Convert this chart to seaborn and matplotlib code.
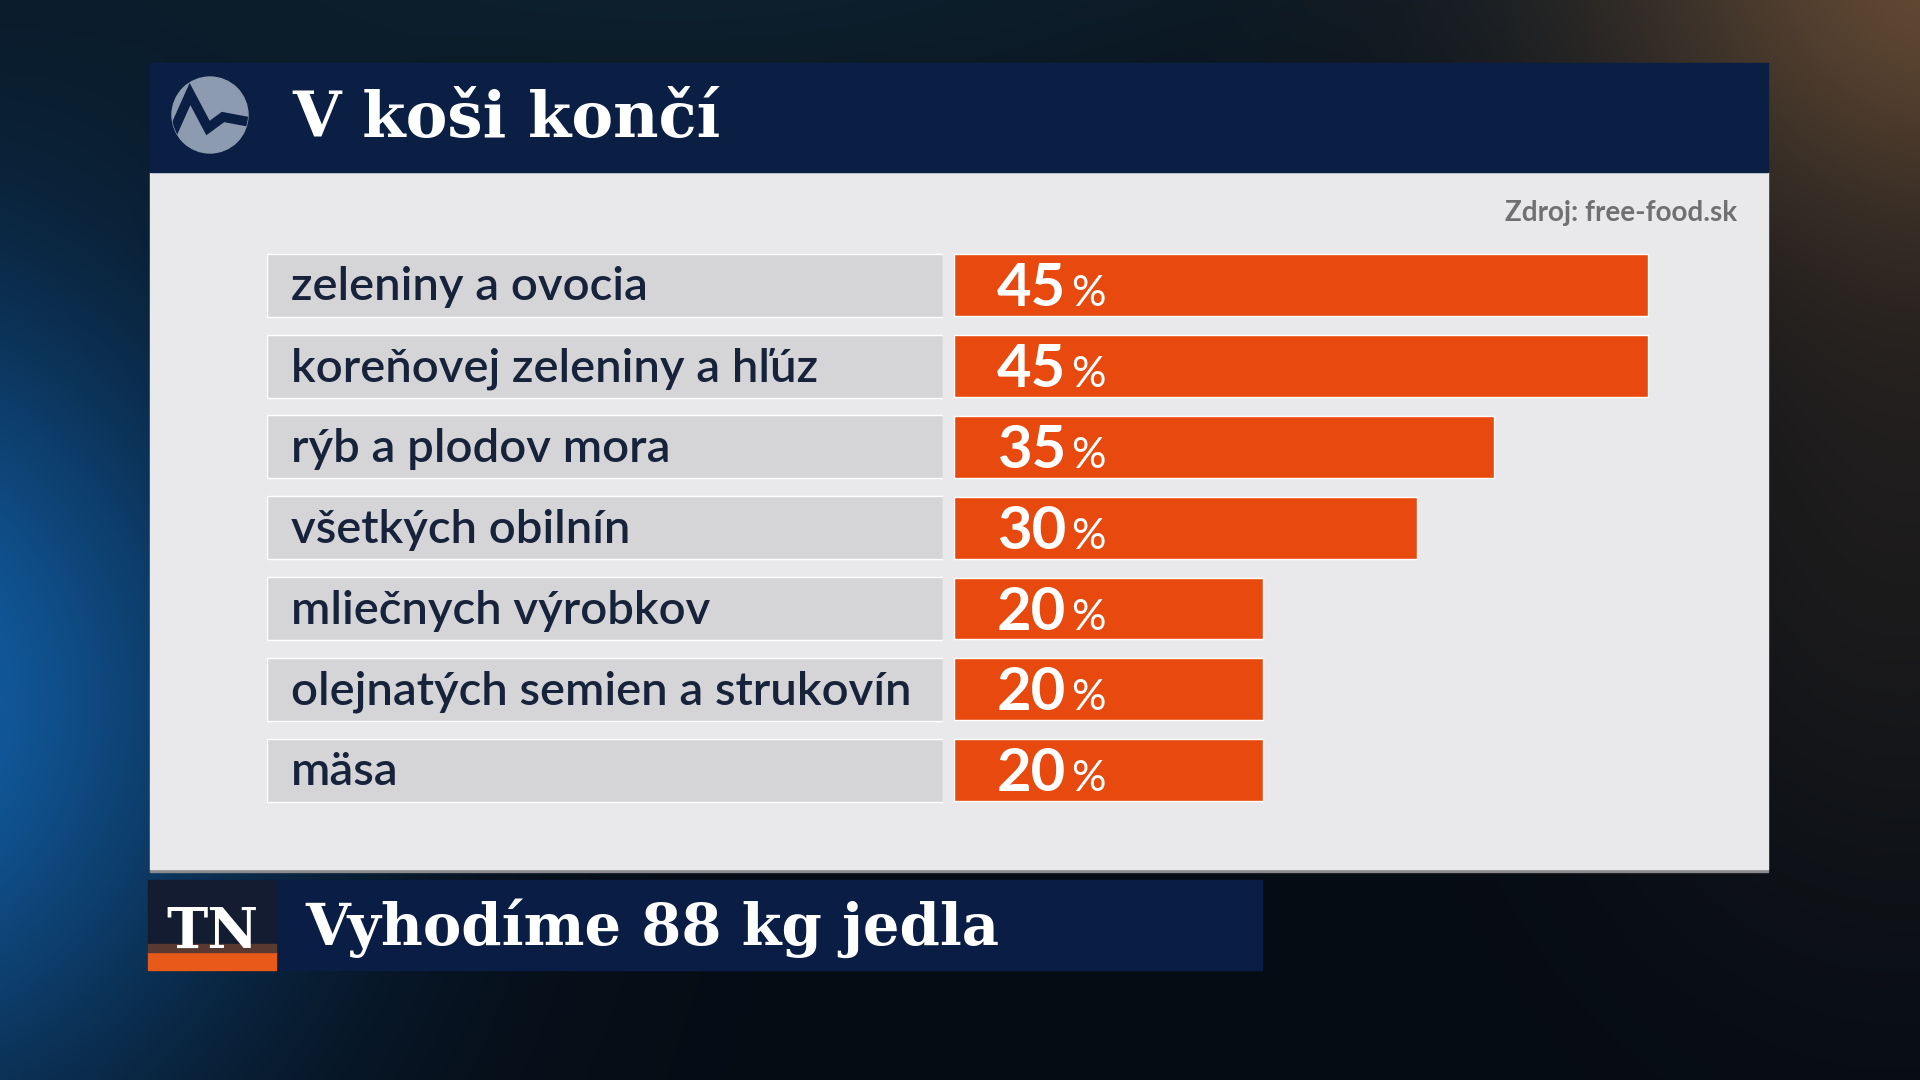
import numpy as np
import pandas as pd
import matplotlib
matplotlib.use("Agg")
import matplotlib.pyplot as plt
import seaborn as sns
from matplotlib.patches import Rectangle, Circle

# ---- data ----
categories = ["zeleniny a ovocia", "koreňovej zeleniny a hľúz", "rýb a plodov mora",
              "všetkých obilnín", "mliečnych výrobkov", "olejnatých semien a strukovín", "mäsa"]
values = [45, 45, 35, 30, 20, 20, 20]
title = "V koši končí"
source = "Zdroj: free-food.sk"
headline = "Vyhodíme 88 kg jedla"
logo_text = "TN"

W, H = 1920, 1080
sns.set_theme(style="white")
plt.rcParams['font.family'] = ['Lato', 'DejaVu Sans']

fig = plt.figure(figsize=(19.2, 10.8), dpi=100)
bg = fig.add_axes([0, 0, 1, 1])
bg.axis('off')

# ---- background gradient ----
yy, xx = np.mgrid[0:H:4, 0:W:4].astype(float)
def blob(cx, cy, sx, sy):
    return np.exp(-(((xx - cx) / sx) ** 2 + ((yy - cy) / sy) ** 2))
img = np.zeros(xx.shape + (3,))
img[:] = np.array([6, 12, 20]) / 255
img += blob(-150, 700, 420, 450)[..., None] * np.array([12, 85, 150]) / 255
img += blob(1980, -60, 400, 300)[..., None] * np.array([90, 58, 28]) / 255
img += blob(700, -100, 800, 300)[..., None] * np.array([8, 22, 28]) / 255
img += blob(1900, 500, 300, 400)[..., None] * np.array([22, 15, 8]) / 255
img = np.clip(img, 0, 1)
bg.imshow(img, extent=(0, W, H, 0), zorder=0, interpolation='bilinear', aspect='auto')
bg.set_xlim(0, W)
bg.set_ylim(H, 0)

# ---- panel ----
bg.add_patch(Rectangle((150, 869), 1618, 3, color='#8a8a8e', zorder=1))
bg.add_patch(Rectangle((150, 172), 1618, 697, color='#e9e9eb', zorder=1))
bg.add_patch(Rectangle((150, 63), 1618, 109, color='#0b1f45', zorder=2))

# logo
circ = Circle((210, 115), 38, color='#8d9bb0', zorder=3)
bg.add_patch(circ)
zz, = bg.plot([165, 190, 208, 223, 255], [150, 94, 128, 117, 123], color='#0b1f45',
              lw=7, zorder=4, solid_joinstyle='miter', solid_capstyle='butt')
zz.set_clip_path(circ)

bg.text(292, 137, title, color='white', fontsize=45, fontweight='bold',
        family=['DejaVu Serif'], va='baseline', ha='left', zorder=5)
bg.text(1737, 221, source, color='#707072', fontsize=20, fontweight='bold',
        va='baseline', ha='right', zorder=5)

# ---- bars ----
n = len(categories)
row0, step = 285.3, 80.8
top_px = row0 - step / 2
bot_px = row0 + step * (n - 1) + step / 2
ax_h = (bot_px - top_px) / H
ax_b = 1 - bot_px / H
x0_px, px_per_pct = 954, 15.43

ax = fig.add_axes([x0_px / W, ax_b, (1768 - x0_px) / W, ax_h])
df = pd.DataFrame({'category': categories, 'value': values})
sns.barplot(data=df, x='value', y='category', orient='h', color='#e8490f',
            saturation=1, width=0.765, ax=ax)
ax.set_xlim(0, (1768 - x0_px) / px_per_pct)
ax.set_ylim(n - 0.5, -0.5)
ax.axis('off')
for i, v in enumerate(values):
    ax.annotate(f"{v}", xy=(0, i), xytext=(112, -21), textcoords='offset pixels',
                ha='right', va='baseline', color='white', fontsize=43, fontweight='bold')
    ax.annotate("%", xy=(0, i), xytext=(117, -21), textcoords='offset pixels',
                ha='left', va='baseline', color='white', fontsize=31)

# label boxes
ax2 = fig.add_axes([267 / W, ax_b, (943 - 267) / W, ax_h])
ax2.barh(range(n), [1] * n, height=0.78, color='#d5d5d8', left=0)
ax2.set_xlim(0, 1)
ax2.set_ylim(n - 0.5, -0.5)
ax2.axis('off')
for i, c in enumerate(categories):
    ax2.annotate(c, xy=(0, i), xytext=(24, -15), textcoords='offset pixels',
                 ha='left', va='baseline', color='#17223b', fontsize=34, fontweight='semibold')

# ---- bottom strap ----
bg.add_patch(Rectangle((276, 880), 986, 90, color='#0a1d44', zorder=2))
bg.add_patch(Rectangle((148, 880), 128, 90, color='#131c30', zorder=2))
bg.add_patch(Rectangle((148, 952), 128, 18, color='#e85a1a', zorder=3))
bg.add_patch(Rectangle((148, 944), 128, 8, color='#5a3a30', zorder=3))
bg.text(166, 948, logo_text, color='white', fontsize=40, fontweight='bold',
        family=['DejaVu Serif'], va='baseline', ha='left', zorder=5)
bg.text(305, 945, headline, color='white', fontsize=41.5, fontweight='bold',
        family=['DejaVu Serif'], va='baseline', ha='left', zorder=5)

fig.savefig('out.png', dpi=100)
